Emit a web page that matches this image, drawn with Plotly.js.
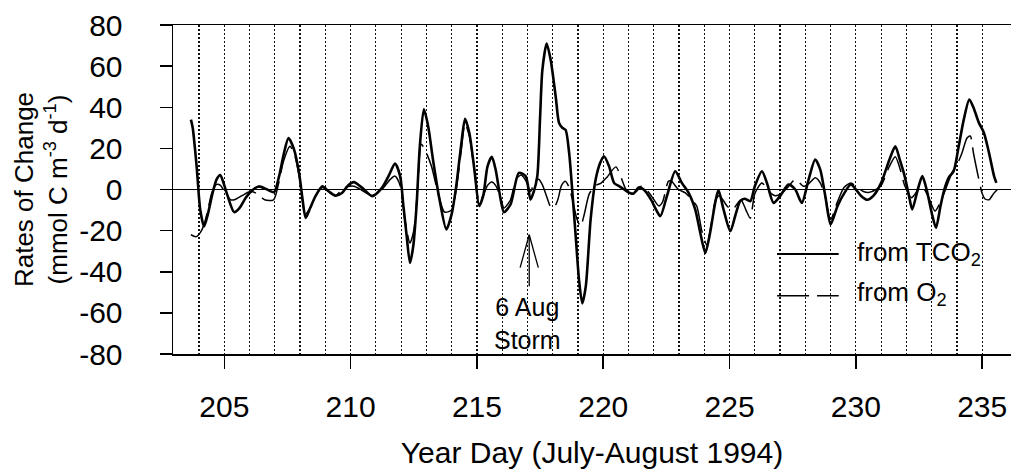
<!DOCTYPE html>
<html>
<head>
<meta charset="utf-8">
<script src="https://cdn.plot.ly/plotly-3.0.1.min.js"></script>
<style>
html,body{margin:0;padding:0;background:#fff;overflow:hidden;}
#chart{width:1011px;height:475px;}
</style>
</head>
<body>
<div id="chart"></div>
<script>
// ---- Data ----
const tco2Day = [203.68,203.75,203.9,204.05,204.2,204.35,204.54,204.7,204.84,205.0,205.13,205.39,205.6,205.85,206.1,206.36,206.7,206.97,207.17,207.35,207.54,207.76,207.96,208.1,208.22,208.4,208.62,208.88,209.14,209.4,209.67,209.9,210.13,210.46,210.85,211.24,211.5,211.76,211.96,212.09,212.22,212.35,212.48,212.61,212.74,212.9,213.07,213.26,213.52,213.79,214.0,214.18,214.37,214.53,214.7,214.9,215.09,215.25,215.42,215.59,215.74,215.94,216.07,216.33,216.66,216.93,217.12,217.25,217.39,217.5,217.59,217.76,217.92,218.12,218.25,218.38,218.51,218.65,218.78,218.91,219.04,219.17,219.31,219.5,219.7,219.88,220.03,220.23,220.43,220.63,220.83,221.03,221.2,221.4,221.6,221.89,222.1,222.26,222.52,222.85,223.11,223.38,223.64,223.84,224.04,224.23,224.43,224.56,224.76,225.03,225.22,225.42,225.6,225.82,226.0,226.28,226.48,226.74,227.0,227.33,227.6,227.86,228.13,228.39,228.59,228.79,229.0,229.27,229.53,229.8,230.0,230.2,230.45,230.7,231.0,231.33,231.56,231.75,231.93,232.1,232.23,232.45,232.63,232.8,233.0,233.17,233.35,233.5,233.67,233.87,234.07,234.27,234.49,234.65,234.87,235.07,235.27,235.47,235.56];
const tco2Rate = [34,30,12,-10,-18,-12,-1.6,5,7,2,-3,-11,-9,-4,-0.5,1.5,0,-1.3,6.5,17,25,19.5,8,-5,-13.8,-9,-3,1.6,-1,-3,-1.6,2,3.6,0.8,-3.2,0.8,6.5,12.6,6.5,-8,-22.7,-35.7,-27.5,-8,21,39,30.8,14.6,-4.9,-19.4,-12,1.6,21,34.4,27.5,9.7,-8,-3,11.3,15.9,9.7,-4.9,-11,-7.3,8.1,6.5,-4.9,-1,6.5,35,58,71,63,45,32.4,30,29,17.8,-1.6,-22.7,-43.8,-55.4,-47,-14.6,4.9,13,16.2,11.3,3.2,1.6,0,-1.6,-2,1,0,-4.9,-10,-13,-3.2,8.9,3.2,-1.6,-9.7,-21,-30.8,-21,-6.5,-0.3,-9.7,-20.3,-13,-5.7,-4.5,-5.7,1.6,8.9,3.2,-6.5,-3.2,2.4,0,-6.5,4.9,14.6,9.7,-3.2,-17,-8.1,-2,2.4,0,-3,-5,-3,3.2,14.6,21,14,6.5,-3,-9.7,0,6.5,0,-11.3,-18.6,-8,0,5.7,8.9,21,34,43.8,40,32.4,27.5,17.8,6.5,3.2];

const o2Day = [203.68,203.88,204.05,204.2,204.35,204.5,204.7,204.85,205.05,205.25,205.4,205.7,206.03,206.3,206.6,206.95,207.15,207.35,207.6,207.8,208.0,208.2,208.4,208.62,208.88,209.14,209.4,209.74,210.13,210.46,210.85,211.24,211.57,211.76,211.96,212.15,212.35,212.5,212.65,212.8,213.0,213.2,213.46,213.72,214.0,214.18,214.37,214.53,214.7,214.9,215.09,215.25,215.42,215.59,215.74,215.94,216.07,216.33,216.55,216.75,216.95,217.12,217.3,217.45,217.6,217.75,217.9,218.04,218.2,218.35,218.5,218.65,218.8,218.95,219.1,219.25,219.45,219.7,219.9,220.15,220.5,220.7,220.9,221.1,221.3,221.5,221.7,221.9,222.2,222.35,222.58,222.7,222.98,223.25,223.5,223.7,223.9,224.1,224.3,224.45,224.6,224.9,225.1,225.3,225.45,225.65,225.82,226.0,226.28,226.54,226.8,227.05,227.3,227.6,227.93,228.15,228.39,228.6,228.79,229.0,229.27,229.53,229.8,230.0,230.3,230.5,230.8,231.0,231.33,231.56,231.75,231.93,232.2,232.6,232.85,233.13,233.35,233.55,233.8,234.0,234.2,234.4,234.53,234.65,234.84,235.0,235.1,235.27,235.45,235.6];
const o2Rate = [-22,-23,-21,-17,-10,-2,2.5,2,-2,-5,-5,-3,-1,-2,-5,-5,3,14,21,16,4,-12,-9,-3,1,-1,-3,0.8,1.6,-0.5,-3,0,4.9,6.5,2,-14.6,-26,-20,0,22,17.8,11.3,-1.6,-11,-10,0,18,32,26,9,-6,-3,2,3.7,2,-4,-9,-5,5,7,4,-1,4,5,2,-3,-8,-9,-5,2,4,1,-6,-14,-18,-12,-2,2,3,6,11,6,0,-2,-1,1.6,0,-3,-8,-6,4,4,0,-1.6,-4.9,-8,-20,-27,-15,-5,-3,-8,-10,-7,-5,-10,-14,-2,3.2,-0.8,-3,-2,1,4.9,1.6,3,5.7,3,-4,-14.6,-6,1,3.2,1.5,-1,-1.5,0,2,11.3,15.9,10,2,-4,1.6,-3,-10.5,-6,0,8.1,12,17.8,25,26,18,6.5,-2,-4.5,-5,-2,0];

const dayLines = [204,205,206,207,208,209,210,211,212,213,214,215,216,217,218,219,220,221,222,223,224,225,226,227,228,229,230,231,232,233,234,235];
const xTickVals = [205,210,215,220,225,230,235];
const yTickVals = [-80,-60,-40,-20,0,20,40,60,80];
const yTickText = ['-80','-60','-40','-20','0','20','40','60','80'];
const seriesNames = ['from TCO<sub>2</sub>','from O<sub>2</sub>'];
const stormLabel = '6 Aug<br>Storm';
const stormDay = 217.07;

const FONT = 'Liberation Sans, Arial, Helvetica, sans-serif';
const O2DASH = '32px,8px';

const traces = [
  {x: tco2Day, y: tco2Rate, type: 'scatter', mode: 'lines', name: 'from TCO2',
   line: {color: '#000', width: 2.6, shape: 'spline', smoothing: 0.7}, showlegend: false},
  {x: o2Day, y: o2Rate, type: 'scatter', mode: 'lines', name: 'from O2',
   line: {color: '#000', width: 1.5, dash: O2DASH, shape: 'spline', smoothing: 0.7}, showlegend: false}
];

const shapes = [
  // storm arrow
  {type: 'line', xref: 'x', yref: 'y', x0: stormDay, x1: stormDay, y0: -47, y1: -22, line: {color: '#000', width: 1.3}},
  {type: 'line', xref: 'x', yref: 'y', x0: stormDay - 0.36, x1: stormDay, y0: -38, y1: -22, line: {color: '#000', width: 1.3}},
  {type: 'line', xref: 'x', yref: 'y', x0: stormDay + 0.36, x1: stormDay, y0: -38, y1: -22, line: {color: '#000', width: 1.3}},
  // legend samples
  {type: 'line', xref: 'x', yref: 'y', x0: 226.88, x1: 229.32, y0: -31.4, y1: -31.4, line: {color: '#000', width: 2}},
  {type: 'line', xref: 'x', yref: 'y', x0: 226.88, x1: 229.32, y0: -51.7, y1: -51.7, line: {color: '#000', width: 1.6, dash: O2DASH}}
];

const annotations = [
  {x: 217.0, y: -65.1, xref: 'x', yref: 'y', text: stormLabel, showarrow: false, xanchor: 'center', yanchor: 'middle', align: 'center', font: {family: FONT, size: 25, color: '#000'}},
  {x: 229.98, y: -31.0, xref: 'x', yref: 'y', text: seriesNames[0], showarrow: false, xanchor: 'left', yanchor: 'middle', font: {family: FONT, size: 26, color: '#000'}},
  {x: 229.98, y: -50.5, xref: 'x', yref: 'y', text: seriesNames[1], showarrow: false, xanchor: 'left', yanchor: 'middle', font: {family: FONT, size: 26, color: '#000'}}
];

const layout = {
  width: 1011, height: 475,
  margin: {l: 173, r: 0, t: 25, b: 121, pad: 0},
  paper_bgcolor: '#fff', plot_bgcolor: '#fff',
  font: {family: FONT, color: '#000'},
  showlegend: false,
  xaxis: {
    range: [202.97, 236.14],
    tickmode: 'array', tickvals: xTickVals,
    ticks: 'outside', ticklen: 13, tickwidth: 1.5, tickcolor: '#000',
    tickfont: {family: FONT, size: 30, color: '#000'},
    ticklabelstandoff: 12,
    showline: true, linecolor: '#000', linewidth: 1.5, mirror: true,
    showgrid: true, gridcolor: '#111', gridwidth: 1.2, griddash: '2px,2px',
    minor: {tickmode: 'array', tickvals: dayLines, showgrid: true, gridcolor: '#111', gridwidth: 1.2, griddash: '2px,2px', ticks: ''},
    zeroline: false,
    title: {text: 'Year Day (July-August 1994)', font: {family: FONT, size: 30, color: '#000'}, standoff: 20}
  },
  yaxis: {
    range: [-80, 80],
    tickmode: 'array', tickvals: yTickVals, ticktext: yTickText,
    ticks: 'outside', ticklen: 12, tickwidth: 1.5, tickcolor: '#000',
    tickfont: {family: FONT, size: 30, color: '#000'},
    ticklabelstandoff: 31,
    showline: true, linecolor: '#000', linewidth: 1.5, mirror: false,
    showgrid: false,
    zeroline: true, zerolinecolor: '#000', zerolinewidth: 1.2,
    title: {text: 'Rates of Change<br>(mmol C m<sup>-3</sup> d<sup>-1</sup>)', font: {family: FONT, size: 26, color: '#000'}, standoff: 4}
  },
  shapes: shapes,
  annotations: annotations
};

Plotly.newPlot('chart', traces, layout, {displayModeBar: false, staticPlot: true});
</script>
</body>
</html>
